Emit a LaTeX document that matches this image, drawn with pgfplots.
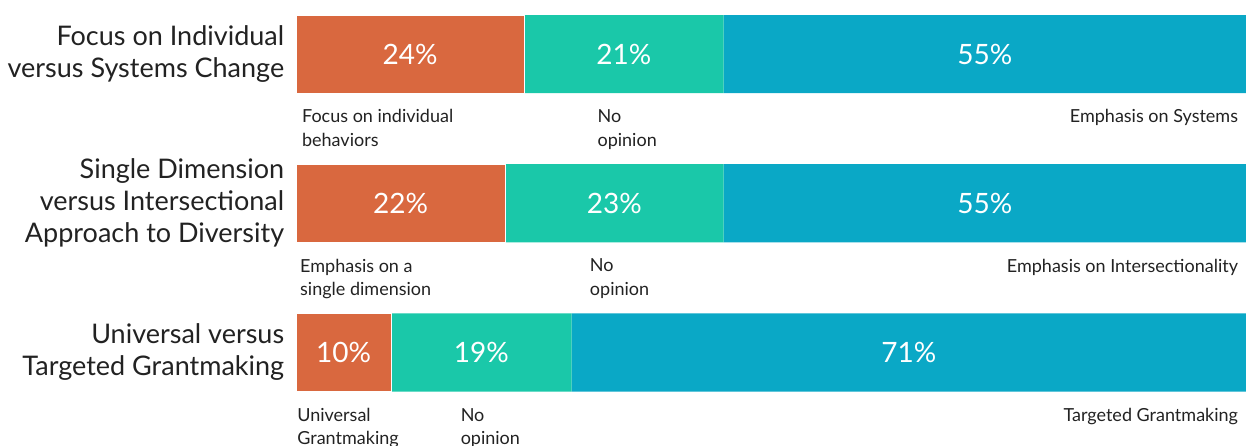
\documentclass[border=0pt]{standalone}
\usepackage{pgfplots}
\pgfplotsset{compat=1.18}
\usepackage{fontspec}
\setmainfont{Lato}
\definecolor{cOrange}{HTML}{D9683F}
\definecolor{cGreen}{HTML}{1AC8A9}
\definecolor{cBlue}{HTML}{0AA8C6}
\definecolor{cText}{HTML}{222222}
\tikzset{
  pct/.style={text=white, font=\fontsize{14}{16}\selectfont, inner sep=0pt},
  cat/.style={text=cText, font=\fontsize{13.5}{16}\selectfont, inner sep=0pt, align=right, anchor=east},
  lbl/.style={text=cText, font=\fontsize{9}{11.8}\selectfont, inner sep=0pt},
}
\pgfplotsset{
  base/.style={
    at={(148pt,0pt)}, anchor=north west,
    scale only axis,
    width=475pt, height=222.5pt,
    xmin=0, xmax=100,
    ymin=-0.362, ymax=2.620,
    y dir=reverse,
    hide axis,
    clip=false,
  }
}
\begin{document}
\begin{tikzpicture}
\begin{axis}[base, xbar stacked, bar width=0.523]
\addplot[fill=cOrange, draw=white, line width=0.4pt] coordinates {(24,0) (22,1) (10,2)};
\addplot[fill=cGreen, draw=none] coordinates {(21,0) (23,1) (19,2)};
\addplot[fill=cBlue, draw=none] coordinates {(55,0) (55,1) (71,2)};
\end{axis}
\begin{axis}[base]
\node[pct] at (axis cs:12,0) {24\%};
\node[pct] at (axis cs:34.5,0) {21\%};
\node[pct] at (axis cs:72.5,0) {55\%};
\node[pct] at (axis cs:11,1) {22\%};
\node[pct] at (axis cs:33.5,1) {23\%};
\node[pct] at (axis cs:72.5,1) {55\%};
\node[pct] at (axis cs:5,2) {10\%};
\node[pct] at (axis cs:19.5,2) {19\%};
\node[pct] at (axis cs:64.5,2) {71\%};

\node[cat] at (axis cs:-1.2,0) {Focus on Individual\\versus Systems Change};
\node[cat] at (axis cs:-1.2,1) {Single Dimension\\versus Intersectional\\Approach to Diversity};
\node[cat] at (axis cs:-1.2,2) {Universal versus\\Targeted Grantmaking};

\node[lbl, anchor=north west, align=left] at (axis cs:0.6,0.37) {Focus on individual\\behaviors};
\node[lbl, anchor=north west, align=left] at (axis cs:31.7,0.37) {No\\opinion};
\node[lbl, anchor=north east, align=right] at (axis cs:99.2,0.37) {Emphasis on Systems};
\node[lbl, anchor=north west, align=left] at (axis cs:0.4,1.37) {Emphasis on a\\single dimension};
\node[lbl, anchor=north west, align=left] at (axis cs:30.9,1.37) {No\\opinion};
\node[lbl, anchor=north east, align=right] at (axis cs:99.2,1.37) {Emphasis on Intersectionality};
\node[lbl, anchor=north west, align=left] at (axis cs:0.1,2.37) {Universal\\Grantmaking};
\node[lbl, anchor=north west, align=left] at (axis cs:17.3,2.37) {No\\opinion};
\node[lbl, anchor=north east, align=right] at (axis cs:99.2,2.37) {Targeted Grantmaking};
\end{axis}
\pgfresetboundingbox
\path[use as bounding box] (0pt,0pt) rectangle (623pt,-222.5pt);
\end{tikzpicture}
\end{document}
